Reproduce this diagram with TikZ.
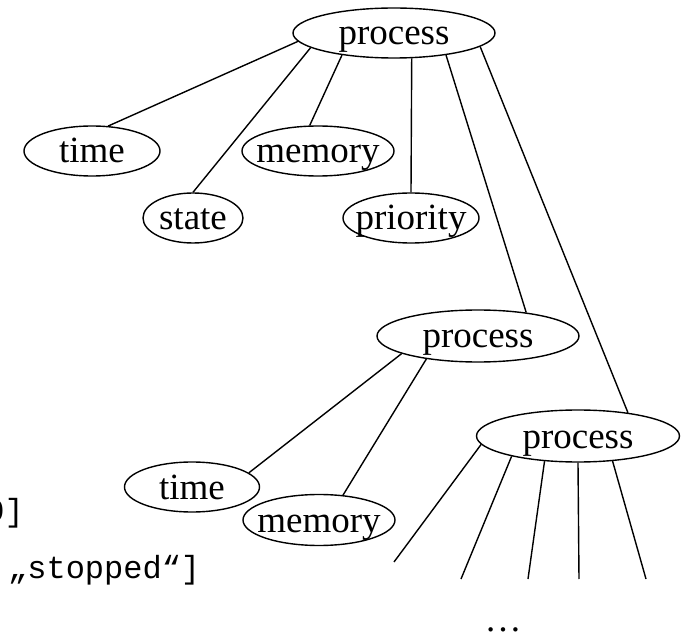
\documentclass[tikz,border=0pt]{standalone}
\usepackage{fontspec}
\setmainfont{Liberation Serif}
\setmonofont{Liberation Mono}
\usetikzlibrary{shapes.geometric}

\newcommand{\word}[1]{\makebox[0pt]{#1}}

\tikzset{
  field/.style={draw, ellipse, line width=1.4pt, inner sep=0pt,
    minimum height=50pt, text height=24pt, text depth=0pt,
    font=\fontsize{37}{44}\selectfont},
  link/.style={line width=1.4pt},
  code/.style={font=\ttfamily\fontsize{32}{38}\selectfont, inner sep=0pt}
}

\begin{document}
\begin{tikzpicture}[x=1pt, y=-1pt]
  \useasboundingbox (0,0) rectangle (686,639);

  % Root process and its fields
  \node[field, minimum width=202pt] (proc) at (394,33) {\word{process}};
  \node[field, minimum width=136pt] (time) at (92,151) {\word{time}};
  \node[field, minimum width=152pt] (mem) at (318,151) {\word{memory}};
  \node[field, minimum width=100pt] (state) at (193,218) {\word{state}};
  \node[field, minimum width=136pt] (prio) at (411,218) {\word{priority}};

  % Child processes
  \node[field, minimum width=202pt, minimum height=52pt] (procB) at (478,336) {\word{process}};
  \node[field, minimum width=203pt, minimum height=52pt] (procC) at (578,436) {\word{process}};
  \node[field, minimum width=135pt] (timeB) at (192,487) {\word{time}};
  \node[field, minimum width=152pt, minimum height=51pt] (memB) at (319,520) {\word{memory}};

  % Open ends below the last process
  \coordinate (endA) at (394,562);
  \coordinate (endB) at (461,579);
  \coordinate (endC) at (528,579);
  \coordinate (endD) at (579,579);
  \coordinate (endE) at (646,579);

  % Links
  \draw[link] (proc.185) -- (time.57);
  \draw[link] (proc.190) -- (state.north);
  \draw[link] (proc.203) -- (mem.108);
  \draw[link] (proc.305) -- (prio.north);
  \draw[link] (proc.337) -- (procB.26);
  \draw[link] (proc.351) -- (procC.25);
  \draw[link] (procB.193) -- (timeB.14);
  \draw[link] (procB.204) -- (memB.46);
  \draw[link] (procC.185) -- (endA);
  \draw[link] (procC.197) -- (endB);
  \draw[link] (procC.217) -- (endC);
  \draw[link] (procC.south) -- (endD);
  \draw[link] (procC.324) -- (endE);

  % Text cut off at the left edge
  \node[code, anchor=base east] (frag) at (24,521) {0]};
  \node[code, anchor=base west] (stop) at (8,578) {„stopped“]};

  \node[font=\fontsize{37}{44}\selectfont, inner sep=0pt, anchor=base] (more) at (503,631) {…};
\end{tikzpicture}
\end{document}
